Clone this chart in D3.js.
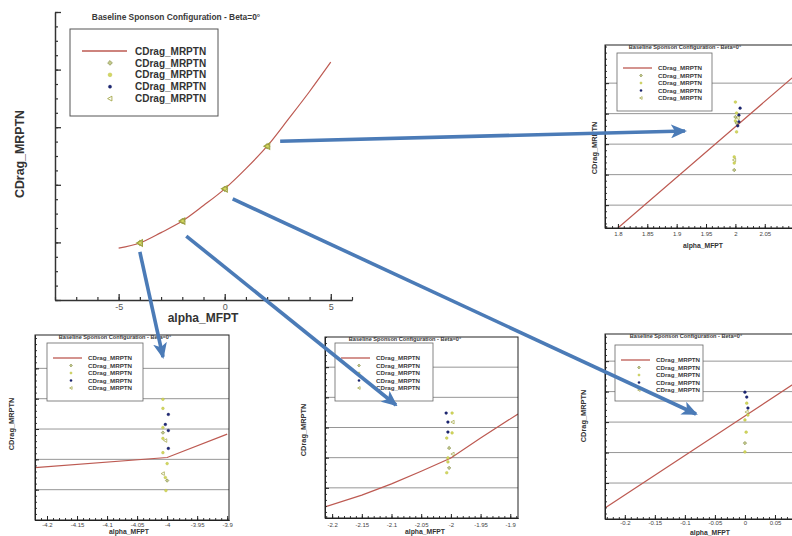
<!DOCTYPE html>
<html>
<head>
<meta charset="utf-8">
<script src="https://cdn.jsdelivr.net/npm/d3@7"></script>
<style>
  html, body { margin: 0; padding: 0; background: #fff; }
  svg { display: block; }
</style>
</head>
<body>
<svg id="chart" width="792" height="536"></svg>
<script>
// ---------- shared text ----------
const titleText = "Baseline Sponson Configuration - Beta=0°";
const seriesNames = ["CDrag_MRPTN", "CDrag_MRPTN", "CDrag_MRPTN", "CDrag_MRPTN", "CDrag_MRPTN"];
const xTitle = "alpha_MFPT";
const yTitle = "CDrag_MRPTN";

// ---------- overview: drag over the full alpha sweep ----------
const sweepAlpha = [-5, -4, -3, -2, -1, 0, 1, 2, 3, 4, 5];
const sweepDrag  = [0.0090, 0.0099, 0.0117, 0.0137, 0.0164, 0.0193, 0.0228, 0.0267, 0.0314, 0.0362, 0.0413];
const sweepTicks = [-5, 0, 5];
const sampleAlpha = [-4, -2, 0, 2];
const sampleDrag  = [0.0099, 0.0137, 0.0193, 0.0267];

// ---------- close-up around alpha = 2 ----------
const nearTwoTicks     = [1.8, 1.85, 1.9, 1.95, 2, 2.05];
const nearTwoLineAlpha = [1.8, 2.0, 2.12];
const nearTwoLineDrag  = [0.25, 3.57, 5.56];
const nearTwoPtAlpha   = [2.0, 2.008, 2.002, 2.006, 2.0, 2.004, 2.0, 2.006, 2.002, 2.004, 2.002, 1.998, 1.998, 1.998, 1.998];
const nearTwoPtDrag    = [4.38, 4.18, 4.02, 3.95, 3.89, 3.86, 3.76, 3.73, 3.69, 3.60, 3.40, 2.58, 2.48, 2.38, 2.15];
const nearTwoPtSeries  = [2, 3, 2, 3, 1, 4, 2, 3, 1, 3, 2, 2, 4, 2, 1];

// ---------- close-up around alpha = -4 ----------
const nearM4Ticks     = [-4.2, -4.15, -4.1, -4.05, -4, -3.95, -3.9];
const nearM4LineAlpha = [-4.22, -4.0, -3.9];
const nearM4LineDrag  = [1.73, 2.06, 2.83];
const nearM4PtAlpha   = [-4.007, -4.007, -3.998, -4.003, -4.007, -3.998, -4.007, -4.007, -4.003, -3.998, -4.007, -4.0, -4.007, -4.003, -4.0, -4.002];
const nearM4PtDrag    = [3.98, 3.68, 3.48, 3.15, 3.05, 2.95, 2.88, 2.69, 2.62, 2.36, 2.22, 1.86, 1.53, 1.40, 1.30, 0.97];
const nearM4PtSeries  = [2, 2, 3, 3, 2, 3, 1, 2, 4, 3, 2, 2, 4, 2, 1, 2];

// ---------- close-up around alpha = -2 ----------
const nearM2Ticks     = [-2.2, -2.15, -2.1, -2.05, -2, -1.95, -1.9];
const nearM2LineAlpha = [-2.212, -2.15, -2.1, -2.05, -2.0, -1.95, -1.887];
const nearM2LineDrag  = [0.37, 0.76, 1.13, 1.55, 1.99, 2.65, 3.45];
const nearM2PtAlpha   = [-2.008, -1.998, -2.005, -1.997, -2.005, -1.998, -2.007, -2.003, -1.997, -2.005, -2.005, -2.003, -2.007];
const nearM2PtDrag    = [3.48, 3.48, 3.18, 3.18, 2.85, 2.82, 2.65, 2.32, 2.12, 1.99, 1.86, 1.66, 1.50];
const nearM2PtSeries  = [3, 2, 3, 4, 3, 2, 2, 1, 4, 2, 2, 1, 2];

// ---------- close-up around alpha = 0 ----------
const nearZeroTicks     = [-0.2, -0.15, -0.1, -0.05, 0, 0.05];
const nearZeroLineAlpha = [-0.233, 0, 0.1];
const nearZeroLineDrag  = [0.18, 3.2, 4.5];
const nearZeroPtAlpha   = [0, 0.003, 0.003, 0.005, 0.003, 0.005, 0, 0.002, 0, 0];
const nearZeroPtDrag    = [3.98, 3.82, 3.62, 3.46, 3.33, 3.23, 3.07, 2.67, 2.31, 2.02];
const nearZeroPtSeries  = [3, 3, 2, 3, 4, 2, 2, 2, 1, 2];

const gridLevels = [1, 2, 3, 4, 5];

// ---------- styling ----------
const FONT = "'Liberation Sans', Arial, Helvetica, sans-serif";
const RED = "#bd5a52";
const ARROW = "#4b7bb7";
const seriesStyle = {
  1: { fill: "#c3c98a", stroke: "#7c8440" },
  2: { fill: "#d3d760", stroke: "#b7bb3c" },
  3: { fill: "#1d2878", stroke: "#141c58" },
  4: { fill: "none",    stroke: "#9ea23e" }
};

const svg = d3.select("#chart");

function drawSymbol(g, series, cx, cy, s) {
  const st = seriesStyle[series];
  if (series === 4) {
    // left-pointing triangle outline
    g.append("path")
      .attr("d", `M${cx - s},${cy} L${cx + s * 0.8},${cy - s} L${cx + s * 0.8},${cy + s} Z`)
      .attr("fill", st.fill).attr("stroke", st.stroke).attr("stroke-width", Math.max(0.7, s * 0.35));
  } else if (series === 1) {
    // square diamond
    g.append("path")
      .attr("d", `M${cx},${cy - s} L${cx + s},${cy} L${cx},${cy + s} L${cx - s},${cy} Z`)
      .attr("fill", st.fill).attr("stroke", st.stroke).attr("stroke-width", 0.6);
  } else {
    g.append("circle").attr("cx", cx).attr("cy", cy).attr("r", s * 0.8)
      .attr("fill", st.fill).attr("stroke", st.stroke).attr("stroke-width", 0.4);
  }
}

function styleAxis(g, color, width) {
  g.selectAll("path, line").attr("stroke", color).attr("stroke-width", width);
}

// ================= overview chart =================
const mx = d3.scaleLinear().domain([-8, 6]).range([55, 352]);
const my = d3.scaleLinear().domain([0, 0.05]).range([300, 12]);
const main = svg.append("g");

// legend
const mLeg = main.append("g");
mLeg.append("rect").attr("x", 70).attr("y", 29).attr("width", 148).attr("height", 87)
  .attr("fill", "#fff").attr("stroke", "#555").attr("stroke-width", 1);
seriesNames.forEach((name, i) => {
  const ry = 51 + i * 11.9;
  if (i === 0) {
    mLeg.append("line").attr("x1", 82).attr("x2", 127).attr("y1", ry).attr("y2", ry)
      .attr("stroke", RED).attr("stroke-width", 1.6);
  } else {
    drawSymbol(mLeg, i, 110, ry, i === 3 ? 2 : 2.4);
  }
  mLeg.append("text").attr("x", 135).attr("y", ry).attr("dy", "0.36em")
    .attr("font-family", FONT).attr("font-weight", "bold").attr("font-size", 10)
    .attr("fill", "#333").text(name);
});

main.append("text").attr("x", 176).attr("y", 20).attr("text-anchor", "middle")
  .attr("font-family", FONT).attr("font-weight", "bold").attr("font-size", 8.4)
  .attr("fill", "#3a3a3a").text(titleText);

// curve
main.append("path")
  .datum(sweepAlpha.map((a, i) => [a, sweepDrag[i]]))
  .attr("d", d3.line().x(d => mx(d[0])).y(d => my(d[1])).curve(d3.curveMonotoneX))
  .attr("fill", "none").attr("stroke", RED).attr("stroke-width", 1.2);

// sampled points
sampleAlpha.forEach((a, i) => {
  const cx = mx(a), cy = my(sampleDrag[i]);
  drawSymbol(main, 1, cx, cy, 2.8);
  drawSymbol(main, 2, cx, cy, 2.2);
  drawSymbol(main, 4, cx, cy, 3.2);
});

// axes
const mxMinor = main.append("g").attr("transform", "translate(0,300)")
  .call(d3.axisBottom(mx).tickValues(d3.range(-8, 7)).tickSize(-3).tickSizeOuter(0).tickFormat(""));
styleAxis(mxMinor, "#333", 1.2);
const mxMajor = main.append("g").attr("transform", "translate(0,300)")
  .call(d3.axisBottom(mx).tickValues(sweepTicks).tickSize(-6).tickSizeOuter(0).tickPadding(4)
    .tickFormat(d => String(d)));
styleAxis(mxMajor, "#333", 1.3);
mxMajor.selectAll("text").attr("font-family", FONT).attr("font-size", 9).attr("fill", "#555");

const myMinor = main.append("g").attr("transform", "translate(55,0)")
  .call(d3.axisLeft(my).tickValues(d3.range(0, 21).map(i => i * 0.0025)).tickSize(-3).tickSizeOuter(0).tickFormat(""));
styleAxis(myMinor, "#333", 1.2);
const myMajor = main.append("g").attr("transform", "translate(55,0)")
  .call(d3.axisLeft(my).tickValues(d3.range(0, 6).map(i => i * 0.01)).tickSize(-6).tickSizeOuter(0).tickFormat(""));
styleAxis(myMajor, "#333", 1.3);

main.append("text").attr("x", 203).attr("y", 322).attr("text-anchor", "middle")
  .attr("font-family", FONT).attr("font-weight", "bold").attr("font-size", 12)
  .attr("fill", "#333").text(xTitle);
main.append("text").attr("transform", "translate(24,154) rotate(-90)").attr("text-anchor", "middle")
  .attr("font-family", FONT).attr("font-weight", "bold").attr("font-size", 12.4)
  .attr("fill", "#333").text(yTitle);

// ================= close-up panels =================
const panels = [
  { id: "p2",  box: { l: 605, t: 45,  r: 800, b: 228 }, xDomain: [1.778, 2.11],    yDomain: [0.25, 6.25],
    ticks: nearTwoTicks, lineA: nearTwoLineAlpha, lineD: nearTwoLineDrag,
    ptA: nearTwoPtAlpha, ptD: nearTwoPtDrag, ptS: nearTwoPtSeries,
    legend: { x: 617, y: 53, w: 95, h: 58 }, titleX: 685, yLab: [597, 148], xLab: [703, 248], pad: 4 },
  { id: "pm4", box: { l: 35,  t: 335, r: 229, b: 520 }, xDomain: [-4.22, -3.897], yDomain: [0, 6.1],
    ticks: nearM4Ticks, lineA: nearM4LineAlpha, lineD: nearM4LineDrag,
    ptA: nearM4PtAlpha, ptD: nearM4PtDrag, ptS: nearM4PtSeries,
    legend: { x: 47, y: 343, w: 96, h: 58 }, titleX: 115, yLab: [14, 424], xLab: [129, 534], pad: 3 },
  { id: "pm2", box: { l: 325, t: 337, r: 518, b: 518 }, xDomain: [-2.212, -1.887], yDomain: [0, 6],
    ticks: nearM2Ticks, lineA: nearM2LineAlpha, lineD: nearM2LineDrag,
    ptA: nearM2PtAlpha, ptD: nearM2PtDrag, ptS: nearM2PtSeries,
    legend: { x: 335, y: 343, w: 98, h: 58 }, titleX: 405, yLab: [306, 430], xLab: [425, 534], pad: 4.5 },
  { id: "p0",  box: { l: 605, t: 334, r: 805, b: 519 }, xDomain: [-0.233, 0.1],   yDomain: [-0.18, 5.89],
    ticks: nearZeroTicks, lineA: nearZeroLineAlpha, lineD: nearZeroLineDrag,
    ptA: nearZeroPtAlpha, ptD: nearZeroPtDrag, ptS: nearZeroPtSeries,
    legend: { x: 615, y: 345, w: 88, h: 56 }, titleX: 686, yLab: [586, 416], xLab: [710, 534.5], pad: 2 }
];

const defs = svg.append("defs");

panels.forEach(p => {
  const { l, t, r, b } = p.box;
  const x = d3.scaleLinear().domain(p.xDomain).range([l, r]);
  const y = d3.scaleLinear().domain(p.yDomain).range([b, t]);
  const g = svg.append("g");

  defs.append("clipPath").attr("id", "clip-" + p.id)
    .append("rect").attr("x", l).attr("y", t).attr("width", r - l).attr("height", b - t);

  g.append("rect").attr("x", l).attr("y", t).attr("width", r - l).attr("height", b - t).attr("fill", "#fff");

  const inner = g.append("g").attr("clip-path", `url(#clip-${p.id})`);
  inner.selectAll("line.grid").data(gridLevels).join("line")
    .attr("x1", l).attr("x2", r).attr("y1", d => y(d)).attr("y2", d => y(d))
    .attr("stroke", "#8a8a8a").attr("stroke-width", 0.9);

  inner.append("path")
    .datum(p.lineA.map((a, i) => [a, p.lineD[i]]))
    .attr("d", d3.line().x(d => x(d[0])).y(d => y(d[1])))
    .attr("fill", "none").attr("stroke", RED).attr("stroke-width", 1.2);

  p.ptA.forEach((a, i) => drawSymbol(inner, p.ptS[i], x(a), y(p.ptD[i]), p.ptS[i] === 4 ? 1.8 : 1.7));

  // legend
  const L = p.legend;
  g.append("rect").attr("x", L.x).attr("y", L.y).attr("width", L.w).attr("height", L.h)
    .attr("fill", "#fff").attr("stroke", "#666").attr("stroke-width", 0.8);
  seriesNames.forEach((name, i) => {
    const ry = L.y + 15 + i * 7.5;
    if (i === 0) {
      g.append("line").attr("x1", L.x + 6).attr("x2", L.x + 35).attr("y1", ry).attr("y2", ry)
        .attr("stroke", RED).attr("stroke-width", 1.3);
    } else {
      drawSymbol(g, i, L.x + 24, ry, 1.4);
    }
    g.append("text").attr("x", L.x + 41).attr("y", ry).attr("dy", "0.36em")
      .attr("font-family", FONT).attr("font-weight", "bold").attr("font-size", 6.2)
      .attr("fill", "#3a3a3a").text(name);
  });

  // frame and axes
  g.append("rect").attr("x", l).attr("y", t).attr("width", r - l).attr("height", b - t)
    .attr("fill", "none").attr("stroke", "#222").attr("stroke-width", 1);

  const lo = Math.ceil(p.xDomain[0] * 100), hi = Math.floor(p.xDomain[1] * 100);
  const xm = g.append("g").attr("transform", `translate(0,${b})`)
    .call(d3.axisBottom(x).tickValues(d3.range(lo, hi + 1).map(k => k / 100)).tickSize(-2).tickSizeOuter(0).tickFormat(""));
  styleAxis(xm, "#222", 0.9);
  const xM = g.append("g").attr("transform", `translate(0,${b})`)
    .call(d3.axisBottom(x).tickValues(p.ticks).tickSize(-4).tickSizeOuter(0).tickPadding(p.pad)
      .tickFormat(d => String(d)));
  styleAxis(xM, "#222", 1);
  xM.selectAll("text").attr("font-family", FONT).attr("font-size", 6).attr("fill", "#444");

  const ylo = Math.ceil(p.yDomain[0] * 5), yhi = Math.floor(p.yDomain[1] * 5);
  const ym = g.append("g").attr("transform", `translate(${l},0)`)
    .call(d3.axisLeft(y).tickValues(d3.range(ylo, yhi + 1).map(k => k / 5)).tickSize(-2).tickSizeOuter(0).tickFormat(""));
  styleAxis(ym, "#222", 0.9);
  const yM = g.append("g").attr("transform", `translate(${l},0)`)
    .call(d3.axisLeft(y).tickValues(gridLevels).tickSize(-4).tickSizeOuter(0).tickFormat(""));
  styleAxis(yM, "#222", 1);

  // titles
  g.append("text").attr("x", p.titleX).attr("y", t + 3.5).attr("text-anchor", "middle")
    .attr("font-family", FONT).attr("font-weight", "bold").attr("font-size", 5.6)
    .attr("fill", "#3a3a3a").text(titleText);
  g.append("text").attr("x", p.xLab[0]).attr("y", p.xLab[1]).attr("text-anchor", "middle")
    .attr("font-family", FONT).attr("font-weight", "bold").attr("font-size", 6.8)
    .attr("fill", "#333").text(xTitle);
  g.append("text").attr("transform", `translate(${p.yLab[0]},${p.yLab[1]}) rotate(-90)`)
    .attr("text-anchor", "middle")
    .attr("font-family", FONT).attr("font-weight", "bold").attr("font-size", 7.4)
    .attr("fill", "#333").text(yTitle);
});

// ================= call-out arrows =================
defs.append("marker").attr("id", "head").attr("markerUnits", "userSpaceOnUse")
  .attr("viewBox", "0 0 16 14").attr("refX", 14).attr("refY", 7)
  .attr("markerWidth", 16).attr("markerHeight", 14).attr("orient", "auto")
  .append("path").attr("d", "M0,0 L16,7 L0,14 L4,7 Z").attr("fill", ARROW);

// each arrow starts beside a sampled point and points into its close-up panel
const calloutStart = [[13, -5], [0, 9], [4, 15], [8, 10]];
const calloutEnd = [[685, 131], [163, 357], [396, 405], [696, 414]];
const calloutOrder = [3, 0, 1, 2]; // sample index for each arrow
calloutOrder.forEach((si, k) => {
  const x0 = mx(sampleAlpha[si]) + calloutStart[k][0];
  const y0 = my(sampleDrag[si]) + calloutStart[k][1];
  svg.append("line").attr("x1", x0).attr("y1", y0)
    .attr("x2", calloutEnd[k][0]).attr("y2", calloutEnd[k][1])
    .attr("stroke", ARROW).attr("stroke-width", 3.6).attr("stroke-linecap", "butt")
    .attr("marker-end", "url(#head)");
});
</script>
</body>
</html>
